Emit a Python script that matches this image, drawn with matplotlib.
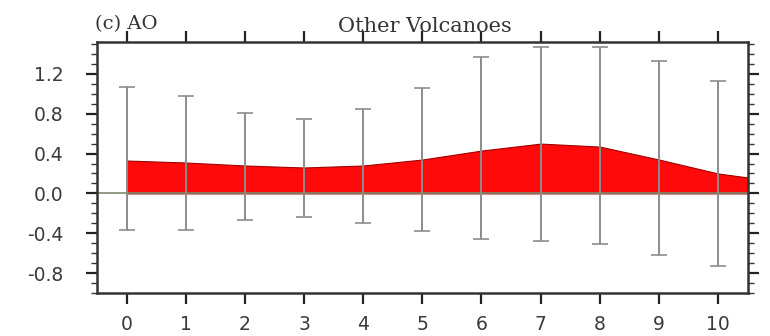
import matplotlib
matplotlib.use("Agg")
import matplotlib.pyplot as plt
from matplotlib.ticker import MultipleLocator
import numpy as np

# lag years and AO composite
lag = [0, 1, 2, 3, 4, 5, 6, 7, 8, 9, 10, 11]
ao_mean = [0.33, 0.31, 0.28, 0.26, 0.28, 0.34, 0.43, 0.50, 0.47, 0.34, 0.20, 0.12]

err_lag = [0, 1, 2, 3, 4, 5, 6, 7, 8, 9, 10]
err_top = [1.07, 0.98, 0.81, 0.75, 0.85, 1.06, 1.37, 1.47, 1.47, 1.33, 1.13]
err_bot = [-0.37, -0.37, -0.27, -0.24, -0.30, -0.38, -0.46, -0.48, -0.51, -0.62, -0.73]

yticks = [-0.8, -0.4, 0.0, 0.4, 0.8, 1.2]

fig = plt.figure(figsize=(7.7, 3.36), dpi=100)
ax = fig.add_axes([0.126, 0.128, 0.845, 0.747])

ax.fill_between(lag, 0, ao_mean, color='#ff0a0a', edgecolor='#a00000', lw=0.8, zorder=1)
ax.axhline(0, color='#7a8a6a', lw=1.2, zorder=2)

# spread bars
mid = (np.array(err_top) + np.array(err_bot)) / 2
half = (np.array(err_top) - np.array(err_bot)) / 2
ax.errorbar(err_lag, mid, yerr=half, fmt='none', ecolor='#8c8c8c',
            elinewidth=1.4, capsize=6, capthick=1.2, zorder=3)

ax.set_xlim(-0.5, 10.5)
ax.set_ylim(-1.0, 1.52)
ax.set_xticks(err_lag)
ax.set_yticks(yticks)
ax.set_yticklabels([f'{v:.1f}' for v in yticks])
ax.yaxis.set_minor_locator(MultipleLocator(0.1))

for lbl in ax.get_xticklabels() + ax.get_yticklabels():
    lbl.set_fontfamily('DejaVu Sans')
    lbl.set_fontsize(13.5)
    lbl.set_color('#3a3a3a')

ax.tick_params(axis='both', which='major', direction='out', length=8, width=1.6,
               top=True, right=True, color='#222222')
ax.tick_params(axis='y', which='minor', direction='out', length=4.5, width=1,
               left=True, right=True, color='#333333')
ax.tick_params(axis='x', pad=8)
ax.tick_params(axis='y', pad=16)

for sp in ax.spines.values():
    sp.set_linewidth(1.8)
    sp.set_color('#333333')

fig.text(0.124, 0.927, '(c) AO', fontfamily='DejaVu Serif', fontsize=14,
         color='#333333', ha='left', va='center')
fig.text(0.552, 0.922, 'Other Volcanoes', fontfamily='DejaVu Serif', fontsize=15,
         color='#333333', ha='center', va='center')

fig.savefig('out.png', dpi=100)
